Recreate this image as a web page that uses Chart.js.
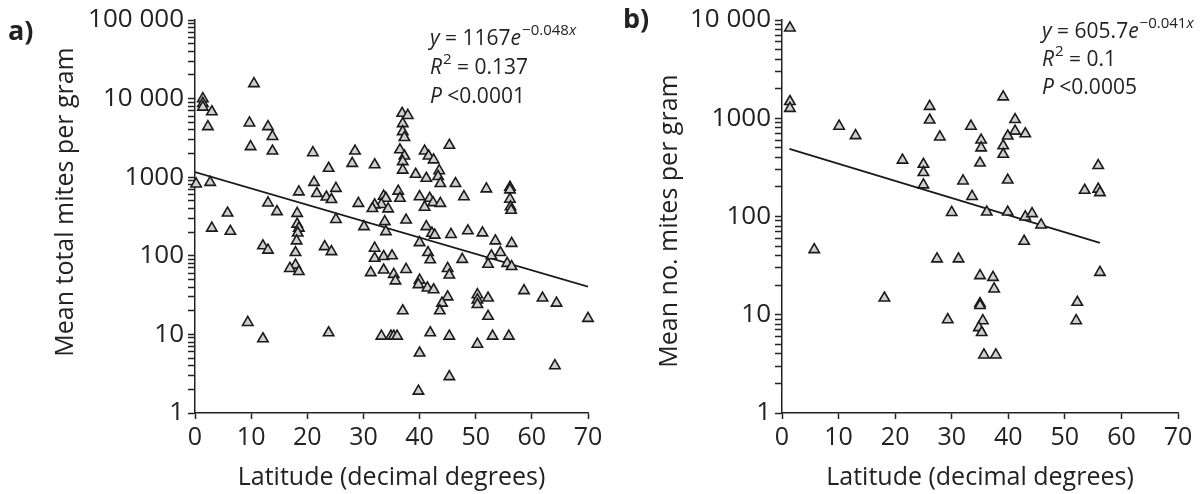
<!DOCTYPE html>
<html>
<head>
<meta charset="utf-8">
<script src="https://cdn.jsdelivr.net/npm/chart.js@4.4.0/dist/chart.umd.min.js"></script>
<style>
  html, body { margin: 0; padding: 0; background: #fff; }
  #wrap { position: relative; width: 1203px; height: 494px; overflow: hidden; }
  canvas { position: absolute; top: 0; }
  #chart-a { left: 0; }
  #chart-b { left: 600px; }
</style>
</head>
<body>
<div id="wrap">
  <canvas id="chart-a" width="610" height="494"></canvas>
  <canvas id="chart-b" width="603" height="494"></canvas>
</div>
<script>
const FONT = "'Open Sans', 'DejaVu Sans', sans-serif";
const INK = "#222";

// panel a) latitude vs mean total mites per gram
const latA = [
  10.5, 1.4, 1.4, 1.4, 3.0, 2.3, 9.7, 13.0, 13.8, 9.9, 13.8, 21.0, 23.8, 0.2, 2.7, 21.2,
  21.7, 18.5, 23.4, 24.3, 25.1, 13.0, 14.6, 18.2, 25.1, 5.8, 3.0, 6.3, 18.2, 18.5, 18.3,
  18.1, 17.9, 12.1, 13.0, 23.1, 24.3, 17.9, 16.9, 18.5, 9.4, 12.1, 23.8,
  36.9, 37.9, 37.0, 37.0, 37.3, 28.5, 28.0, 32.0, 45.3, 36.5, 37.3, 37.0, 37.0, 40.9,
  41.6, 42.5, 39.3, 41.2, 43.5, 43.3, 43.7, 46.4, 51.9, 47.9, 36.2, 36.5, 33.6, 34.0,
  33.2, 32.0, 31.6, 34.4, 29.1, 40.0, 41.8, 42.4, 43.7, 40.9, 37.6, 33.8, 30.1, 34.0,
  41.2, 42.2, 42.7, 45.6, 48.6, 51.2, 40.0, 53.5, 32.0, 32.0, 33.6, 35.1, 41.5, 41.9,
  47.6, 52.8, 54.4, 52.2, 31.3, 33.6, 35.4, 35.7, 37.6, 45.0, 45.3, 40.0, 39.8, 41.4,
  42.5, 45.0, 44.0, 43.6, 50.3, 50.3, 50.3, 52.2, 52.2, 37.0, 33.2, 34.9, 35.4, 36.0,
  41.9, 45.3, 50.3, 53.0, 40.0, 45.3, 39.8,
  56.1, 56.1, 56.1, 56.2, 56.3, 56.4, 55.6, 56.4, 58.6, 61.9, 64.4, 70.0, 55.9, 64.1
];
const mitesA = [
  15500, 10000, 8700, 7800, 6800, 4400, 4900, 4400, 3300, 2450, 2150, 2050, 1300, 820, 860, 860,
  620, 650, 560, 520, 720, 470, 365, 347, 290, 350, 225, 205, 253, 225, 195,
  155, 110, 134, 118, 131, 113, 76, 69, 63, 14.2, 8.8, 10.5,
  6500, 6100, 4800, 3800, 3200, 2150, 1500, 1440, 2550, 2230, 1860, 1580, 1230, 2150,
  1860, 1660, 1090, 970, 1210, 1020, 830, 830, 710, 565, 665, 540, 575, 540,
  450, 445, 400, 395, 465, 565, 540, 475, 465, 415, 285, 272, 235, 203,
  235, 194, 183, 187, 208, 196, 147, 155, 125, 93, 98, 100, 110, 89,
  90, 100, 110, 78, 61, 66, 58, 48, 67, 69, 57, 49, 43, 39,
  37, 30, 25, 20, 32, 27.5, 24, 29, 17, 20, 9.5, 9.5, 9.5, 9.5,
  10.5, 9.5, 7.5, 9.5, 5.8, 2.9, 1.9,
  745, 690, 525, 420, 380, 144, 80, 73, 36, 29, 25, 16, 9.5, 4
];

// panel b) latitude vs mean no. mites per gram
const latB = [
  1.4, 1.4, 1.4, 10.1, 13.0, 5.7, 18.1, 21.3, 25.0, 25.0, 25.0, 26.1, 26.1, 27.9, 32.0,
  33.6, 30.0, 33.4, 27.4, 31.2, 29.3,
  39.1, 41.2, 41.2, 39.9, 43.0, 39.1, 39.1, 35.2, 35.2, 35.0, 39.9, 36.2, 39.9, 43.0,
  44.2, 45.8, 42.8, 55.9, 53.5, 55.9, 56.2, 56.2, 52.2, 52.0, 35.0, 37.3, 37.5, 35.0,
  35.0, 35.5, 34.8, 35.3, 35.7, 37.8
];
const mitesB = [
  8300, 1480, 1260, 830, 665, 46, 14.8, 375, 340, 280, 210, 1320, 960, 645, 230,
  160, 110, 830, 37, 37, 8.9,
  1650, 970, 740, 660, 695, 525, 430, 600, 500, 350, 235, 111, 111, 99,
  107, 82, 56, 330, 185, 190, 175, 27, 13.4, 8.7, 25, 24, 18.3, 13,
  12.4, 8.7, 7.4, 6.6, 3.9, 3.9
];

// fitted exponential lines, end points as drawn
const fitLatA = [0, 70];
const fitMitesA = [1160, 40.5];
const fitLatB = [1.3, 56.2];
const fitMitesB = [488, 54];

// decade tick labels
const yTicksA = [1, 10, 100, 1000, 10000, 100000];
const yTickTextA = ["1", "10", "100", "1000", "10 000", "100 000"];
const yTicksB = [1, 10, 100, 1000, 10000];
const yTickTextB = ["1", "10", "100", "1000", "10 000"];

function toPoints(xs, ys) {
  return xs.map((x, i) => ({ x: x, y: ys[i] }));
}

// log axis: ticks at 1..9 of every decade, labels only on decades
function decadeTicks(decades) {
  const out = [];
  for (let i = 0; i < decades.length - 1; i++) {
    for (let m = 1; m <= 9; m++) out.push({ value: decades[i] * m });
  }
  out.push({ value: decades[decades.length - 1] });
  return out;
}

function put(ctx, text, x, y, font) {
  ctx.font = font;
  ctx.fillText(text, x, y);
  return x + ctx.measureText(text).width;
}

// panel letter, rotated y title and the fit statistics
const panelText = {
  id: "panelText",
  afterDraw(chart, args, o) {
    const ctx = chart.ctx;
    ctx.save();
    ctx.fillStyle = INK;
    ctx.textBaseline = "middle";
    ctx.textAlign = "left";
    put(ctx, o.tag, o.tagX, o.tagY, "bold 27px " + FONT);

    ctx.save();
    ctx.translate(o.titleX, o.titleY);
    ctx.rotate(-Math.PI / 2);
    ctx.textAlign = "center";
    put(ctx, o.title, 0, 0, "25px " + FONT);
    ctx.restore();

    const big = "21px " + FONT, bigI = "italic 21px " + FONT;
    const small = "15px " + FONT, smallI = "italic 15px " + FONT;
    let x = o.eqX, y = o.eqY;
    x = put(ctx, "y", x, y, bigI);
    x = put(ctx, " = " + o.coef, x, y, big);
    x = put(ctx, "e", x, y, bigI);
    x = put(ctx, o.rate, x + 1, y - 8, small);
    put(ctx, "x", x, y - 8, smallI);

    y += o.gap;
    x = put(ctx, "R", o.eqX, y, bigI);
    x = put(ctx, "2", x + 1, y - 8, small);
    put(ctx, " = " + o.r2, x, y, big);

    y += o.gap;
    x = put(ctx, "P", o.eqX, y, bigI);
    put(ctx, " <" + o.p, x, y, big);
    ctx.restore();
  }
};

function buildChart(id, p) {
  return new Chart(document.getElementById(id), {
    type: "scatter",
    data: {
      datasets: [
        {
          data: toPoints(p.lat, p.mites),
          pointStyle: "triangle",
          pointRadius: 6,
          pointHoverRadius: 6,
          backgroundColor: "#cfcfcf",
          borderColor: "#1a1a1a",
          borderWidth: 1.6,
          clip: false
        },
        {
          type: "line",
          data: toPoints(p.fitLat, p.fitMites),
          borderColor: "#1a1a1a",
          borderWidth: 1.8,
          pointRadius: 0,
          fill: false,
          tension: 0
        }
      ]
    },
    options: {
      responsive: false,
      animation: false,
      events: [],
      layout: { padding: { top: 20, right: p.padRight, left: 0, bottom: 0 } },
      plugins: {
        legend: { display: false },
        tooltip: { enabled: false },
        panelText: p.text
      },
      scales: {
        x: {
          type: "linear",
          min: 0,
          max: 70,
          afterFit: s => { s.height = 81; },
          border: { display: true, color: INK, width: 1.5 },
          grid: { display: true, drawOnChartArea: false, drawTicks: true, tickLength: 6, tickColor: INK, tickWidth: 1.5 },
          ticks: { stepSize: 10, color: INK, padding: 4, font: { family: FONT, size: 25 } },
          title: {
            display: true,
            text: "Latitude (decimal degrees)",
            color: INK,
            font: { family: FONT, size: 25 },
            padding: { top: 0, bottom: 1 }
          }
        },
        y: {
          type: "logarithmic",
          min: 1,
          max: p.yTicks[p.yTicks.length - 1],
          afterFit: s => { s.width = p.yWidth; },
          afterBuildTicks: s => { s.ticks = decadeTicks(p.yTicks); },
          border: { display: true, color: INK, width: 1.5 },
          grid: { display: true, drawOnChartArea: false, drawTicks: true, tickLength: 7, tickColor: INK, tickWidth: 1.5 },
          ticks: {
            autoSkip: false,
            color: INK,
            padding: 4,
            font: { family: FONT, size: 26 },
            callback: v => {
              const i = p.yTicks.findIndex(t => Math.abs(t - v) < 1e-6 * t);
              return i >= 0 ? p.yText[i] : "";
            }
          }
        }
      }
    },
    plugins: [panelText]
  });
}

buildChart("chart-a", {
  lat: latA, mites: mitesA, fitLat: fitLatA, fitMites: fitMitesA,
  yTicks: yTicksA, yText: yTickTextA,
  yWidth: 195, padRight: 22,
  text: { tag: "a)", tagX: 8, tagY: 32, title: "Mean total mites per gram", titleX: 66, titleY: 202,
          eqX: 430, eqY: 39, gap: 29,
          coef: "1167", rate: "\u22120.048", r2: "0.137", p: "0.0001" }
});

buildChart("chart-b", {
  lat: latB, mites: mitesB, fitLat: fitLatB, fitMites: fitMitesB,
  yTicks: yTicksB, yText: yTickTextB,
  yWidth: 182, padRight: 25,
  text: { tag: "b)", tagX: 23, tagY: 20, title: "Mean no. mites per gram", titleX: 70, titleY: 221,
          eqX: 442, eqY: 32, gap: 28,
          coef: "605.7", rate: "\u22120.041", r2: "0.1", p: "0.0005" }
});
</script>
</body>
</html>
